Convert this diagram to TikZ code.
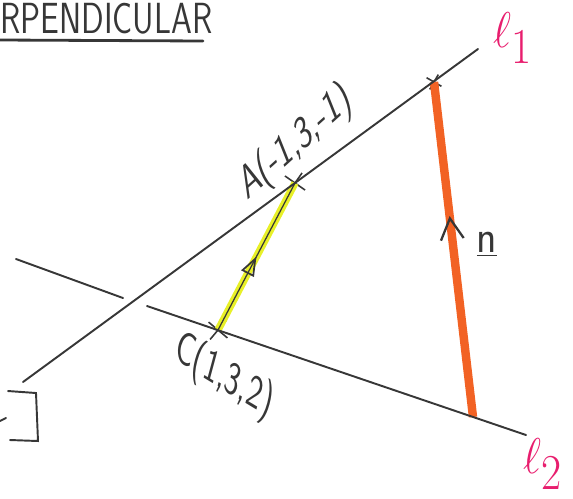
\documentclass[tikz,border=0pt]{standalone}
\usetikzlibrary{arrows.meta,decorations.markings,shapes.misc}
\definecolor{penink}{RGB}{55,55,55}
\definecolor{hiyellow}{RGB}{232,240,40}
\definecolor{hiorange}{RGB}{242,98,36}
\definecolor{penpink}{RGB}{232,30,110}
\begin{document}
\begin{tikzpicture}[x=0.02cm,y=-0.02cm,every node/.style={inner sep=1pt},font=\sffamily]
\tikzstyle{pen}=[draw=penink,line width=1.1pt,line cap=round]
\tikzstyle{tick}=[cross out,draw=penink,line width=0.9pt,minimum size=9pt,inner sep=0pt]
\tikzstyle{lname}=[text=penpink,yscale=1.15,font=\fontsize{36}{40}\selectfont]
\tikzstyle{handtext}=[text=penink,yscale=1.5,font=\sffamily\fontsize{18}{20}\selectfont]
\tikzstyle{midtip}=[postaction={decorate,decoration={markings,mark=at position #1 with {\arrow{Triangle[open,length=11pt,width=8pt,line width=1pt]}}}}]
\tikzstyle{midbarb}=[postaction={decorate,decoration={markings,mark=at position #1 with {\arrow{Straight Barb[length=12pt,width=13pt,line width=1.3pt]}}}}]
\useasboundingbox (0,0) rectangle (573,498);

\coordinate (l1s) at (23,382);
\coordinate (l1e) at (478,49);
\coordinate (l2s) at (16,259);
\coordinate (l2m) at (123,298);
\coordinate (l2n) at (147,306);
\coordinate (l2e) at (526,435);
\coordinate (Q) at (473,417);

\node[tick,rotate=10] (A) at (295,183) {};
\node[tick,rotate=5] (C) at (218,330) {};
\node[tick,minimum size=6pt,rotate=15] (P) at (434,82) {};

\path[draw=hiorange,line width=4.8pt] (Q)--(P.center);
\path[draw=hiyellow,line width=4.2pt] (C.center)--(A.center);
\path[pen] (l1s)--(l1e);
\path[pen] (l2s)--(l2m);
\path[pen] (l2n)--(l2e);
\path[draw=penink,line width=0.7pt,midtip=0.5] (C.center)--(A.center);
\path[color=penink,midbarb=0.6] (Q)--(P.center);

\node[handtext,rotate=31] (Alab) at (296,143) {A(-1,3,-1)};
\node[handtext,rotate=-22] (Clab) at (224,377) {C(1,3,2)};
\node[text=penink,yscale=1.1,font=\sffamily\fontsize{24}{26}\selectfont] (nlab) at (487,244) {\underline{n}};
\node[lname] (l1lab) at (513,38) {$\ell_1$};
\node[lname] (l2lab) at (543,464) {$\ell_2$};

\node[handtext,font=\sffamily\fontsize{19}{21}\selectfont,yscale=0.87,anchor=base west,inner sep=0pt] (title) at (0,33) {RPENDICULAR};
\coordinate (ul1) at (0,40);
\coordinate (ul2) at (203,41);
\path[pen,line width=1.6pt] (ul1)--(ul2);

\coordinate (br1) at (8,391);
\coordinate (br2) at (36,393);
\coordinate (br3) at (38,441);
\coordinate (br4) at (10,440);
\path[pen] (br1)--(br2)--(br3)--(br4);
\coordinate (ds1) at (0,421);
\coordinate (ds2) at (6,418);
\path[pen] (ds1)--(ds2);
\end{tikzpicture}
\end{document}
